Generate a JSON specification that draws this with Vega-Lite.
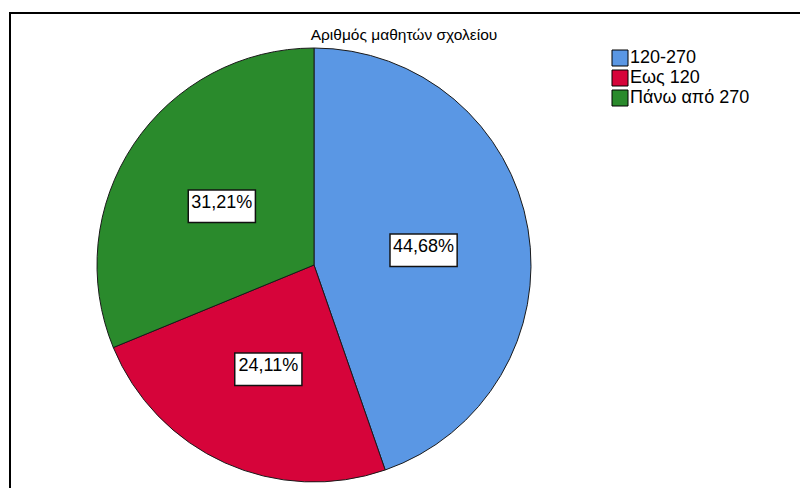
{
  "$schema": "https://vega.github.io/schema/vega-lite/v6.json",
  "autosize": {"type": "none"},
  "padding": {"left": 10, "top": 13, "right": 0, "bottom": 0},
  "width": 800,
  "height": 504,
  "background": "white",
  "view": {"stroke": "black", "strokeWidth": 2},
  "config": {"font": "Liberation Sans"},
  "title": {
    "text": "Αριθμός μαθητών σχολείου",
    "anchor": "middle",
    "frame": "group",
    "fontSize": 15.5,
    "fontWeight": "normal",
    "font": "Liberation Sans",
    "color": "black",
    "dx": -6,
    "dy": 45,
    "baseline": "bottom",
    "offset": 0
  },
  "data": {
    "values": [
      {"cat": "120-270", "pct": 44.68, "label": "44,68%"},
      {"cat": "Εως 120", "pct": 24.11, "label": "24,11%"},
      {"cat": "Πάνω από 270", "pct": 31.21, "label": "31,21%"}
    ]
  },
  "encoding": {
    "theta": {"field": "pct", "type": "quantitative", "stack": true},
    "order": {"field": "cat", "type": "ordinal", "sort": "ascending"},
    "x": {"datum": 0, "type": "quantitative", "scale": {"domain": [-38, 62]}, "axis": null}
  },
  "layer": [
    {
      "mark": {"type": "arc", "outerRadius": 217, "stroke": "#1a1a1a", "strokeWidth": 1},
      "encoding": {
        "color": {
          "field": "cat",
          "type": "nominal",
          "scale": {
            "domain": ["120-270", "Εως 120", "Πάνω από 270"],
            "range": ["#5A97E4", "#D6043A", "#2A8A2C"]
          },
          "legend": {
            "orient": "none",
            "legendX": 601,
            "legendY": 36,
            "title": null,
            "padding": 0,
            "symbolType": "square",
            "symbolSize": 256,
            "symbolStrokeColor": "black",
            "symbolStrokeWidth": 1,
            "symbolOpacity": 1,
            "labelFontSize": 18,
            "labelFont": "Liberation Sans",
            "labelColor": "black",
            "labelOffset": 1,
            "rowPadding": 0
          }
        }
      }
    },
    {
      "mark": {"type": "text", "radius": 111, "text": "▬", "font": "DejaVu Sans", "fontSize": 88, "fill": "white", "stroke": "#111111", "strokeWidth": 1.5, "baseline": "middle", "align": "center"},
      "encoding": {"detail": {"field": "cat", "type": "nominal"}}
    },
    {
      "mark": {"type": "text", "radius": 111, "font": "Liberation Sans", "fontSize": 18, "fill": "black", "baseline": "middle", "align": "center"},
      "encoding": {
        "detail": {"field": "cat", "type": "nominal"},
        "text": {"field": "label", "type": "nominal"}
      }
    }
  ]
}
